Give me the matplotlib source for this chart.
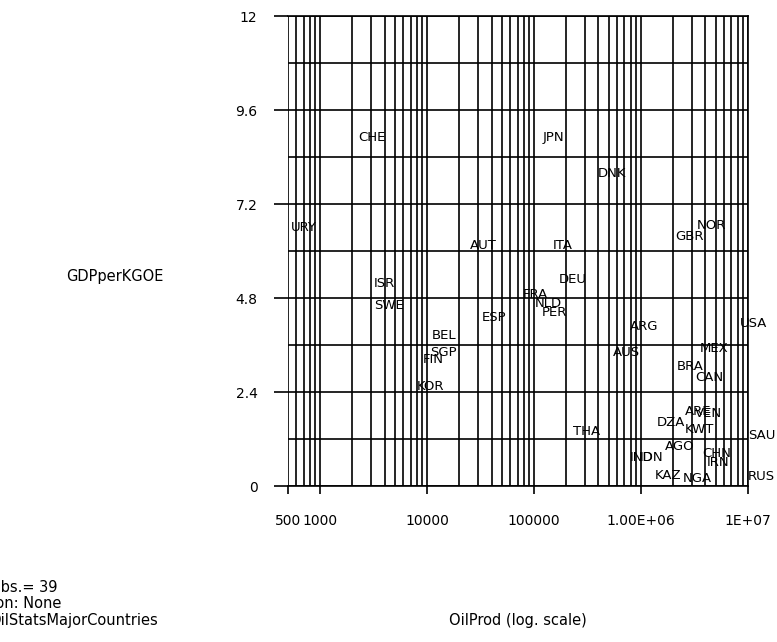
import matplotlib
matplotlib.use('Agg')
import matplotlib.pyplot as plt
from matplotlib.ticker import LogLocator, FixedLocator, NullFormatter

countries = ['URY', 'CHE', 'JPN', 'DNK', 'AUT', 'ITA', 'GBR', 'NOR', 'ISR', 'SWE',
             'DEU', 'FRA', 'NLD', 'PER', 'ESP', 'BEL', 'SGP', 'FIN', 'KOR', 'ARG',
             'AUS', 'USA', 'MEX', 'BRA', 'CAN', 'ARE', 'VEN', 'DZA', 'KWT', 'SAU',
             'THA', 'AGO', 'IND', 'IDN', 'CHN', 'IRN', 'KAZ', 'NGA', 'RUS']
oil_prod = [536, 2270, 121000, 396000, 25200, 151000, 2.08e6, 3.34e6, 3200, 3200,
            171000, 78900, 102000, 119000, 32700, 11100, 10700, 9180, 8070, 789000,
            547000, 8.41e6, 3.56e6, 2.17e6, 3.2e6, 2.58e6, 3.2e6, 1.41e6, 2.58e6, 1.0e7,
            231000, 1.67e6, 789000, 980000, 3.72e6, 4.14e6, 1.35e6, 2.47e6, 1.0e7]
gdp_per_kgoe = [6.61, 8.91, 8.91, 7.97, 6.15, 6.13, 6.36, 6.66, 5.18, 4.62,
                5.26, 4.88, 4.67, 4.42, 4.29, 3.85, 3.40, 3.22, 2.55, 4.06,
                3.42, 4.16, 3.52, 3.06, 2.78, 1.89, 1.86, 1.61, 1.43, 1.28,
                1.38, 1.00, 0.74, 0.74, 0.82, 0.61, 0.28, 0.20, 0.23]

x_ticks = [500, 1000, 10000, 100000, 1e6, 1e7]
x_tick_labels = ['500', '1000', '10000', '100000', '1.00E+06', '1E+07']
y_ticks = [0, 2.4, 4.8, 7.2, 9.6, 12]
y_tick_labels = ['0', '2.4', '4.8', '7.2', '9.6', '12']
y_minor = [1.2, 3.6, 6.0, 8.4, 10.8]

info_lines = ['Obs.= 39', 'Selection: None', 'OilStatsMajorCountries']


def main():
    plt.rcParams['font.family'] = 'DejaVu Sans'
    fig = plt.figure(figsize=(7.77, 6.42), dpi=100)
    W, H = 777, 642
    ax = fig.add_axes([288 / W, 1 - 486 / H, (748 - 288) / W, (486 - 16) / H])

    ax.set_xscale('log')
    ax.set_xlim(500, 1e7)
    ax.set_ylim(0, 12)

    ax.set_xticks(x_ticks)
    ax.set_xticklabels(x_tick_labels, fontsize=10)
    ax.xaxis.set_minor_locator(LogLocator(base=10, subs=range(1, 10), numticks=20))
    ax.xaxis.set_minor_formatter(NullFormatter())
    ax.set_yticks(y_ticks)
    ax.set_yticklabels(y_tick_labels, fontsize=10)
    ax.yaxis.set_minor_locator(FixedLocator(y_minor))

    ax.tick_params(axis='x', which='major', direction='out', length=6, width=1.2, pad=14)
    ax.tick_params(axis='y', which='major', direction='out', length=10, width=1.2, pad=12)
    ax.tick_params(which='minor', length=0)
    ax.grid(which='both', color='black', linewidth=1.2)
    for s in ax.spines.values():
        s.set_linewidth(1.2)
    ax.spines['left'].set_visible(False)

    # country codes placed at their data point
    for name, xv, yv in zip(countries, oil_prod, gdp_per_kgoe):
        ax.text(xv, yv, name, fontsize=9.5, ha='left', va='center', clip_on=False)

    fig.text(66 / W, 1 - 276 / H, 'GDPperKGOE', fontsize=10.5, ha='left', va='center')
    fig.text(518 / W, 1 - 620 / H, 'OilProd (log. scale)', fontsize=10.5, ha='center', va='center')

    # info block is partly cut off at the left edge, like the original
    offsets = [-11, -54, -11]
    for i, line in enumerate(info_lines):
        fig.text(offsets[i] / W, 1 - (588 + 16 * i) / H, line, fontsize=10.5,
                 ha='left', va='center')

    fig.savefig('out.png', dpi=100)


if __name__ == "__main__":
    main()
